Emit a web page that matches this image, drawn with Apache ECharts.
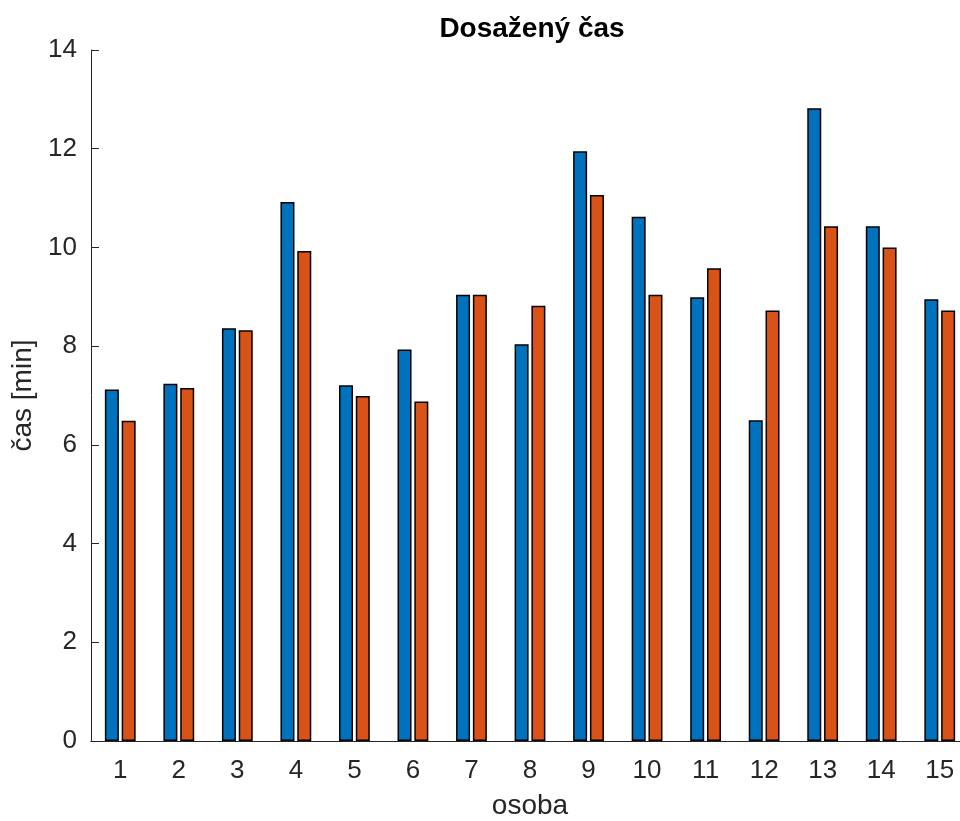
<!DOCTYPE html>
<html>
<head>
<meta charset="utf-8">
<script src="https://cdn.jsdelivr.net/npm/echarts@6/dist/echarts.min.js"></script>
<style>html,body{margin:0;padding:0;background:#fff}#c{width:960px;height:821px}</style>
</head>
<body>
<div id="c"></div>
<script>
const categories = ['1','2','3','4','5','6','7','8','9','10','11','12','13','14','15'];
const series1 = [7.12, 7.24, 8.36, 10.92, 7.21, 7.93, 9.04, 8.04, 11.95, 10.62, 8.99, 6.50, 12.82, 10.43, 8.95];
const series2 = [6.49, 7.15, 8.32, 9.93, 6.99, 6.88, 9.04, 8.82, 11.06, 9.04, 9.58, 8.72, 10.43, 10.00, 8.72];
const yTicks = [0, 2, 4, 6, 8, 10, 12, 14];

const axisColor = '#262626';
const font = 'Arial, "Liberation Sans", Helvetica, sans-serif';
const chart = echarts.init(document.getElementById('c'));
chart.setOption({
  animation: false,
  backgroundColor: '#fff',
  title: {
    text: 'Dosažený čas',
    left: 527, top: 10, textAlign: 'center',
    textStyle: {fontFamily: font, fontSize: 28, fontWeight: 'bold', color: '#000'}
  },
  grid: {left: 91, top: 50, width: 878, height: 691, containLabel: false, outerBoundsMode: 'none'},
  xAxis: [{
    type: 'category', data: categories, position: 'bottom', z: 5,
    boundaryGap: true,
    name: 'osoba', nameLocation: 'middle', nameGap: 51,
    nameTextStyle: {fontFamily: font, fontSize: 28, color: axisColor},
    axisLine: {lineStyle: {color: axisColor, width: 1}},
    axisTick: {alignWithLabel: true, inside: true, length: 8, lineStyle: {color: axisColor, width: 1}},
    axisLabel: {fontFamily: font, fontSize: 26, color: axisColor, margin: 17},
    splitLine: {show: false}
  }, {
    type: 'category', data: categories, position: 'top', z: 5,
    boundaryGap: true,
    axisLine: {lineStyle: {color: axisColor, width: 1}},
    axisTick: {alignWithLabel: true, inside: true, length: 8, lineStyle: {color: axisColor, width: 1}},
    axisLabel: {show: false},
    splitLine: {show: false}
  }],
  yAxis: [{
    type: 'value', min: yTicks[0], max: yTicks[yTicks.length - 1], interval: 2, position: 'left', z: 5,
    name: 'čas [min]', nameLocation: 'middle', nameGap: 47, nameRotate: 90,
    nameTextStyle: {fontFamily: font, fontSize: 28, color: axisColor},
    axisLine: {show: true, lineStyle: {color: axisColor, width: 1}},
    axisTick: {show: true, inside: true, length: 8, lineStyle: {color: axisColor, width: 1}},
    axisLabel: {fontFamily: font, fontSize: 26, color: axisColor, margin: 14},
    splitLine: {show: false}
  }, {
    type: 'value', min: yTicks[0], max: yTicks[yTicks.length - 1], interval: 2, position: 'right', z: 5,
    axisLine: {show: true, lineStyle: {color: axisColor, width: 1}},
    axisTick: {show: true, inside: true, length: 8, lineStyle: {color: axisColor, width: 1}},
    axisLabel: {show: false},
    splitLine: {show: false}
  }],
  series: [{
    type: 'bar', data: series1, xAxisIndex: 0, yAxisIndex: 0,
    barWidth: 14, barGap: '20%',
    itemStyle: {color: '#0072BD', borderColor: '#000', borderWidth: 1.5}
  }, {
    type: 'bar', data: series2, xAxisIndex: 0, yAxisIndex: 0,
    barWidth: 14, barGap: '20%',
    itemStyle: {color: '#D95319', borderColor: '#000', borderWidth: 1.5}
  }]
});
</script>
</body>
</html>
